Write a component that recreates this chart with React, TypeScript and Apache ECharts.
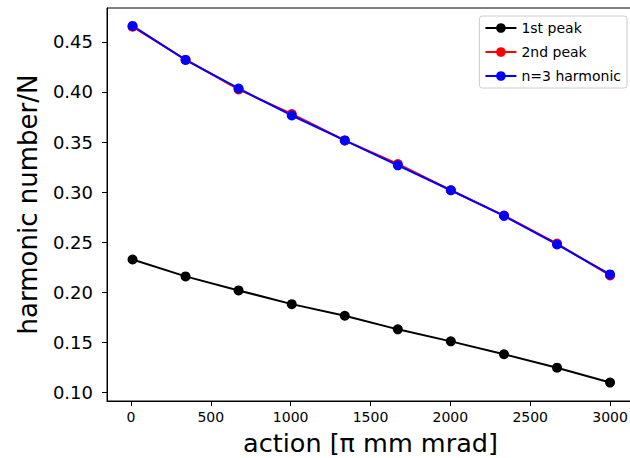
import React, { useEffect, useRef } from "react";
import * as echarts from "echarts";

const actionValues = [10, 342, 674, 1007, 1339, 1671, 2003, 2336, 2668, 3000];
const firstPeak = [0.2326, 0.2157, 0.2017, 0.188, 0.1764, 0.1628, 0.1508, 0.1379, 0.1245, 0.1096];
const secondPeak = [0.4652, 0.4322, 0.4025, 0.378, 0.3516, 0.328, 0.3018, 0.2765, 0.2485, 0.2166];
const thirdHarmonic = [0.466, 0.432, 0.4035, 0.3765, 0.3516, 0.3267, 0.3018, 0.2762, 0.2476, 0.2177];
const xTicks = [0, 500, 1000, 1500, 2000, 2500, 3000];
const yTicks = [0.1, 0.15, 0.2, 0.25, 0.3, 0.35, 0.4, 0.45];
const seriesNames = ["1st peak", "2nd peak", "n=3 harmonic"];
const seriesColors = ["#000000", "#ff0000", "#0000ff"];

const FONT = "DejaVu Sans";

export default function App() {
  const ref = useRef<HTMLDivElement>(null);
  useEffect(() => {
    if (!ref.current) return;
    const chart = echarts.init(ref.current, null, { renderer: "svg" });
    const allData = [firstPeak, secondPeak, thirdHarmonic];
    chart.setOption({
      animation: false,
      backgroundColor: "#ffffff",
      textStyle: { fontFamily: FONT },
      grid: {
        left: 107,
        top: 8,
        right: -4,
        bottom: 57,
        containLabel: false,
        outerBoundsMode: "none",
        show: true,
        borderColor: "#000000",
        borderWidth: 1,
        backgroundColor: "transparent",
      },
      legend: {
        orient: "vertical",
        right: 3,
        top: 16,
        padding: [5, 6, 5, 5],
        itemWidth: 31,
        itemHeight: 12,
        itemGap: 10,
        backgroundColor: "rgba(255,255,255,0.8)",
        borderColor: "#cccccc",
        borderWidth: 1,
        borderRadius: 3,
        textStyle: { fontFamily: FONT, fontSize: 14, color: "#000000" },
        data: seriesNames,
      },
      xAxis: {
        type: "value",
        min: -150,
        max: 3150,
        name: "action [\u03c0 mm mrad]",
        nameLocation: "middle",
        nameGap: 29,
        nameTextStyle: { fontFamily: FONT, fontSize: 25.5, lineHeight: 26, color: "#000000" },
        axisLine: { show: true, onZero: false, lineStyle: { color: "#000000", width: 1 } },
        axisTick: {
          show: true,
          length: 5,
          customValues: xTicks,
          lineStyle: { color: "#000000", width: 1 },
        },
        axisLabel: {
          customValues: xTicks,
          fontFamily: FONT,
          fontSize: 14,
          color: "#000000",
          margin: 9,
          formatter: (v: number) => String(v),
        },
        splitLine: { show: false },
      },
      yAxis: {
        type: "value",
        min: 0.0912,
        max: 0.4839,
        name: "harmonic number/N",
        nameLocation: "middle",
        nameGap: 66,
        nameRotate: 90,
        nameTextStyle: { fontFamily: FONT, fontSize: 26, color: "#000000" },
        axisLine: { show: true, onZero: false, lineStyle: { color: "#000000", width: 1 } },
        axisTick: {
          show: true,
          length: 5,
          customValues: yTicks,
          lineStyle: { color: "#000000", width: 1 },
        },
        axisLabel: {
          customValues: yTicks,
          fontFamily: FONT,
          fontSize: 18,
          color: "#000000",
          margin: 14,
          formatter: (v: number) => v.toFixed(2),
        },
        splitLine: { show: false },
      },
      series: allData.map((vals, i) => ({
        name: seriesNames[i],
        type: "line",
        data: actionValues.map((x, j) => [x, vals[j]]),
        symbol: "circle",
        symbolSize: 10,
        showSymbol: true,
        color: seriesColors[i],
        itemStyle: { color: seriesColors[i] },
        lineStyle: { color: seriesColors[i], width: 2 },
        emphasis: { disabled: true },
      })),
    });
    return () => chart.dispose();
  }, []);
  return (
    <div
      ref={ref}
      style={{ position: "fixed", left: 0, top: 0, width: 630, height: 458 }}
    />
  );
}
